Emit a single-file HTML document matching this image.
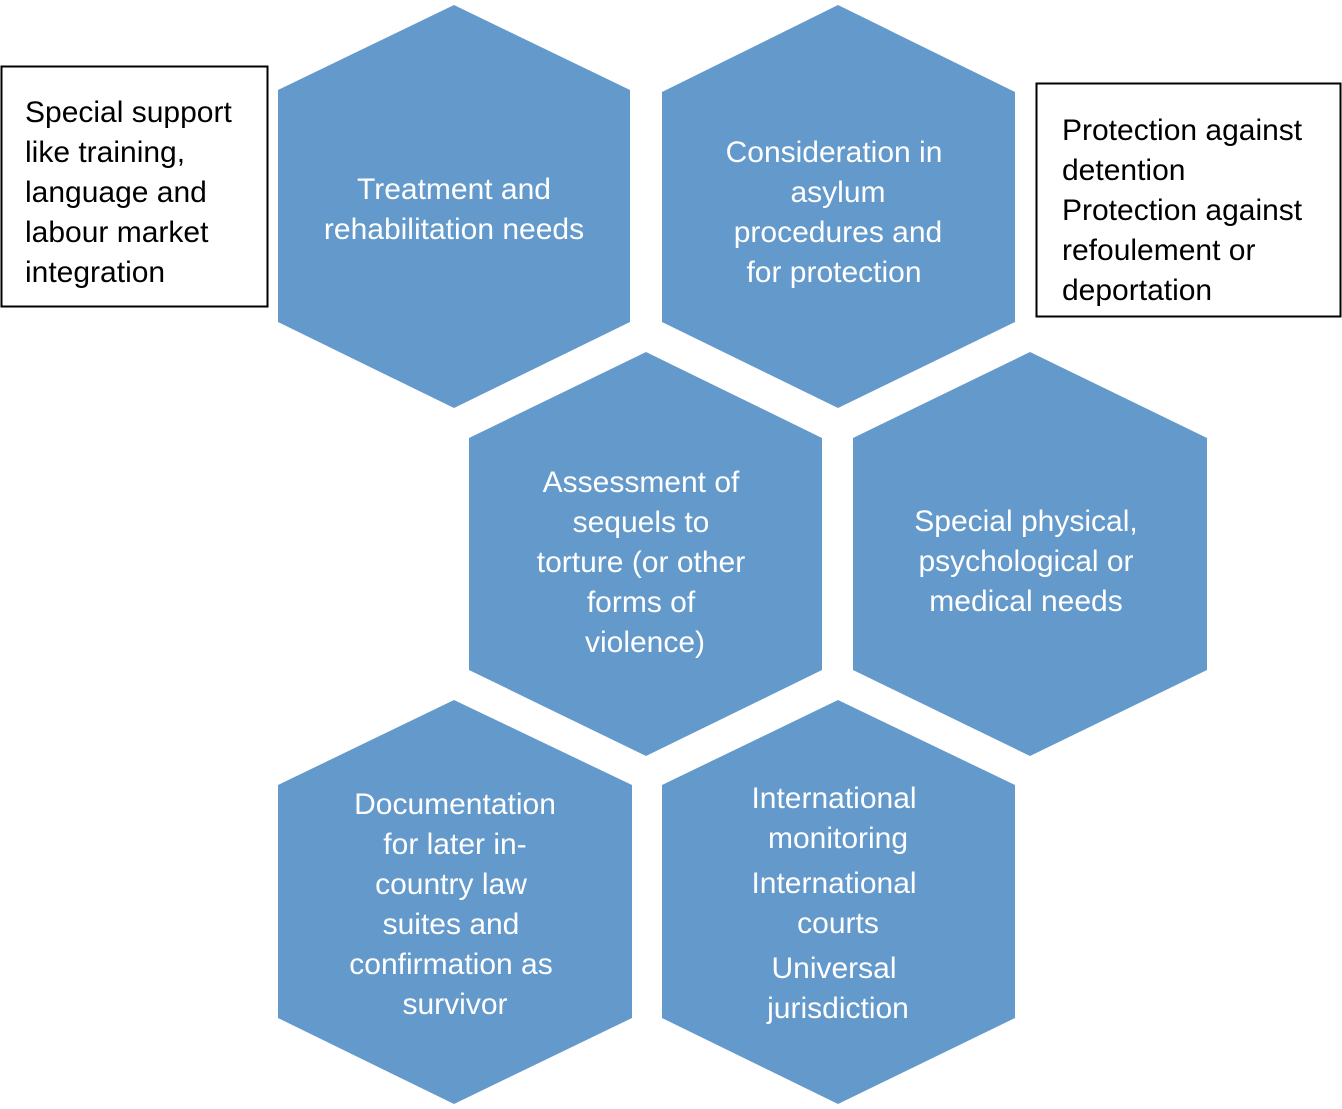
<!DOCTYPE html>
<html><head><meta charset="utf-8"><style>
html,body{margin:0;padding:0;background:#fff;}
svg{display:block;}
text{font-family:"Liberation Sans",sans-serif;font-size:30px;}
.w{fill:#fff;text-anchor:middle;}
.b{fill:#000;}
</style></head><body>
<svg width="1342" height="1109" viewBox="0 0 1342 1109">
<g fill="#6399CB">
<polygon points="454,5 630,90 630,322 454,408 278,322 278,90"/>
<polygon points="838,5 1015,92 1015,322 838,408 662,322 662,92"/>
<polygon points="646,352 822,438 822,670 646,756 469,670 469,438"/>
<polygon points="1030,352 1207,438 1207,670 1030,756 853,670 853,438"/>
<polygon points="454,700 632,785 632,1018 454,1104 278,1018 278,785"/>
<polygon points="838,700 1015,785 1015,1018 838,1104 662,1018 662,785"/>
</g>
<rect x="1.5" y="66.5" width="266" height="240" fill="#fff" stroke="#000" stroke-width="2"/>
<rect x="1036.5" y="83.5" width="304" height="233" fill="#fff" stroke="#000" stroke-width="2"/>
<g class="b">
<text x="25" y="122">Special support</text>
<text x="25" y="162">like training,</text>
<text x="25" y="202">language and</text>
<text x="25" y="242">labour market</text>
<text x="25" y="282">integration</text>
<text x="1062" y="140">Protection against</text>
<text x="1062" y="180">detention</text>
<text x="1062" y="220">Protection against</text>
<text x="1062" y="260">refoulement or</text>
<text x="1062" y="300">deportation</text>
</g>
<g class="w">
<text x="454" y="199">Treatment and</text>
<text x="454" y="239">rehabilitation  needs</text>
<text x="834" y="162">Consideration in</text>
<text x="838" y="202">asylum</text>
<text x="838" y="242">procedures and</text>
<text x="834" y="282">for protection</text>
<text x="641" y="492">Assessment of</text>
<text x="641" y="532">sequels to</text>
<text x="641" y="572">torture (or other</text>
<text x="641" y="612">forms of</text>
<text x="645" y="652">violence)</text>
<text x="1026" y="531">Special  physical,</text>
<text x="1026" y="571">psychological or</text>
<text x="1026" y="611">medical needs</text>
<text x="455" y="814">Documentation</text>
<text x="455" y="854">for later in-</text>
<text x="451" y="894">country law</text>
<text x="451" y="934">suites and</text>
<text x="451" y="974">confirmation as</text>
<text x="455" y="1014">survivor</text>
<text x="834" y="808">International</text>
<text x="838" y="848">monitoring</text>
<text x="834" y="893">International</text>
<text x="838" y="933">courts</text>
<text x="834" y="978">Universal</text>
<text x="838" y="1018">jurisdiction</text>
</g>
</svg>
</body></html>
